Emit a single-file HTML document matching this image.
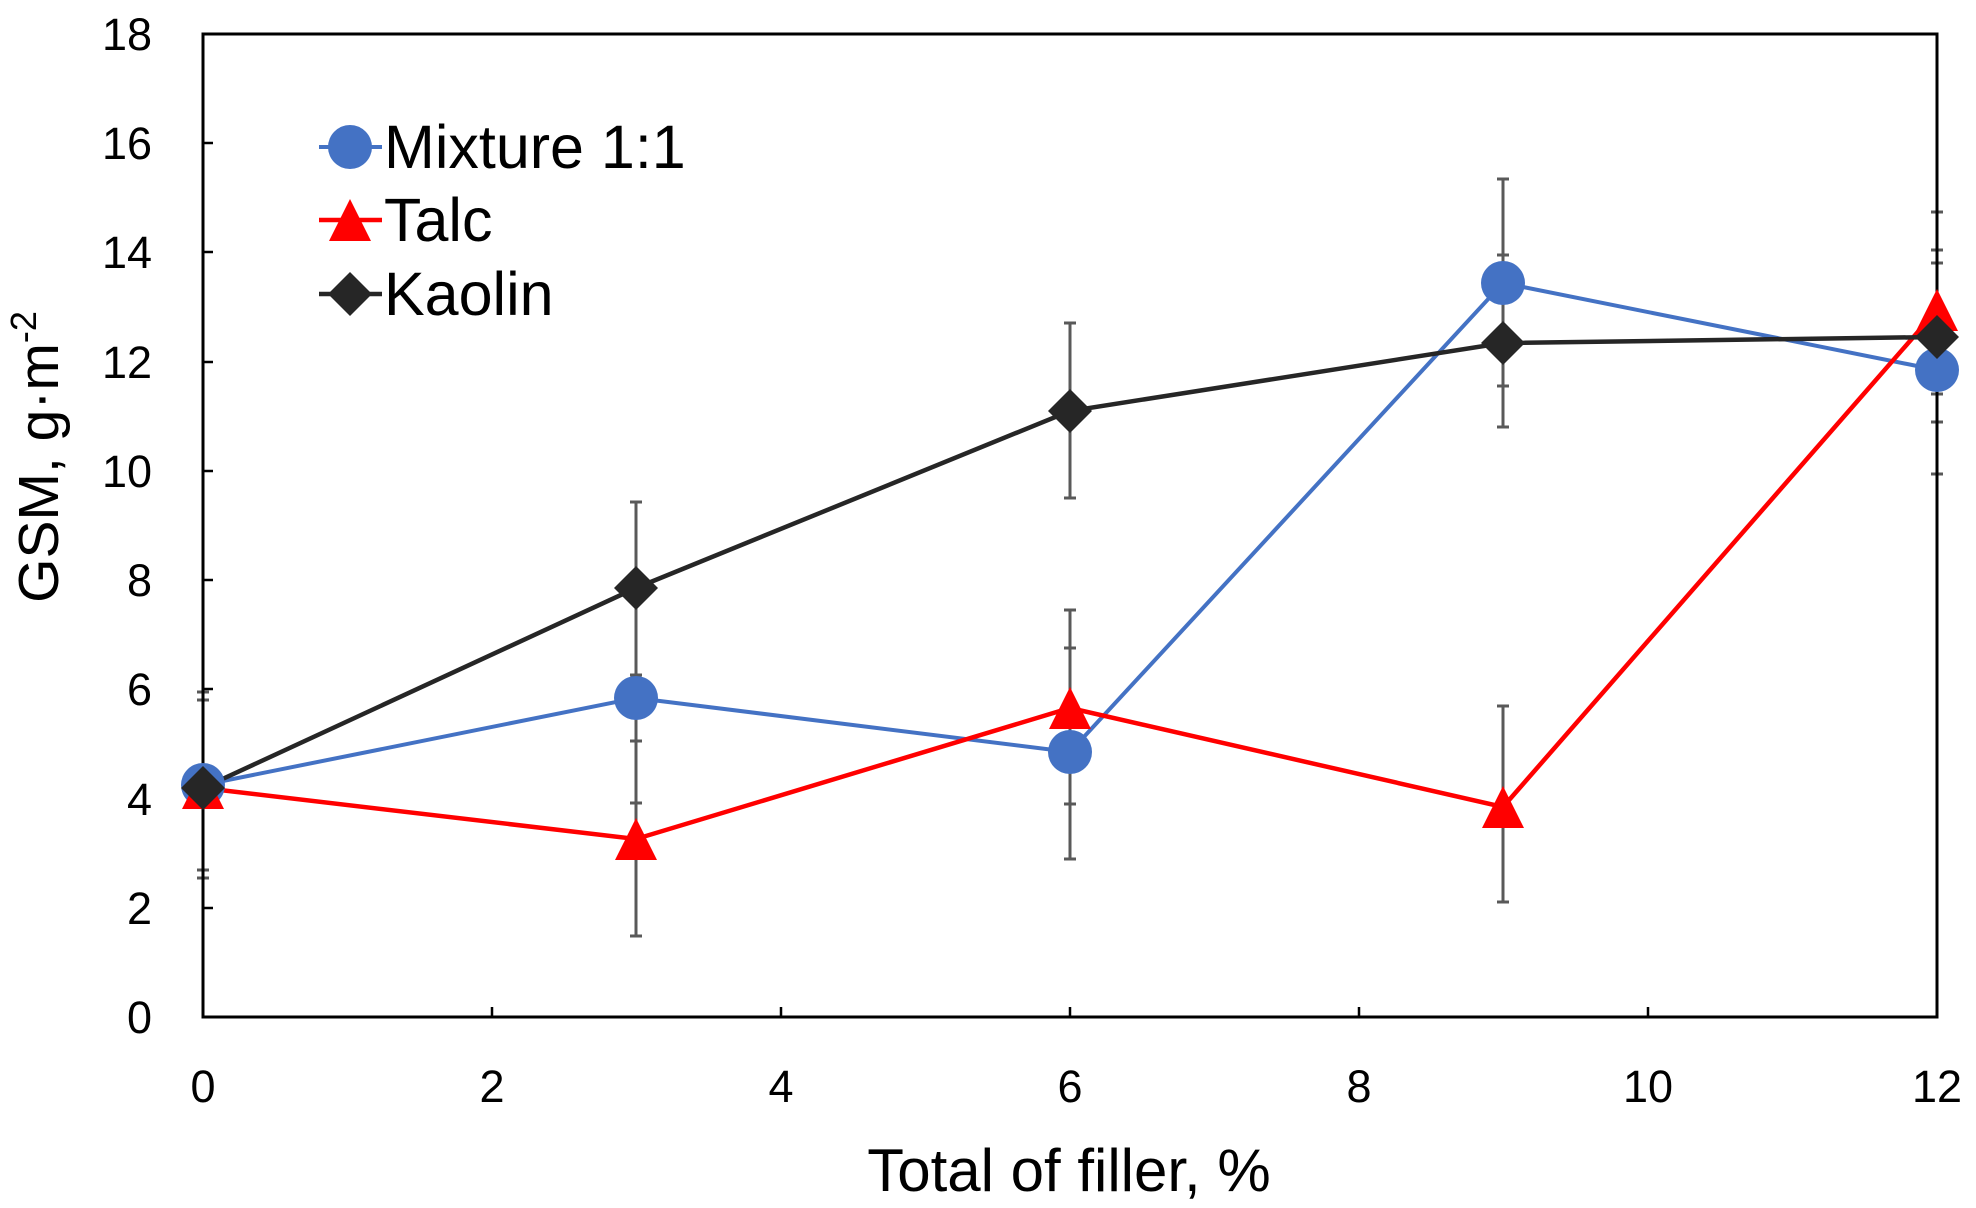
<!DOCTYPE html>
<html><head><meta charset="utf-8"><style>
html,body{margin:0;padding:0;background:#fff;}
svg{display:block;}
text{font-family:"Liberation Sans","DejaVu Sans",sans-serif;fill:#000;}
</style></head><body>
<svg width="1976" height="1208" viewBox="0 0 1976 1208" xmlns="http://www.w3.org/2000/svg">
<rect width="1976" height="1208" fill="#fff"/>
<g stroke="#595959" stroke-width="3" fill="none">
<path d="M203 692V878M197 692H209M197 878H209M203 700V870M197 700H209M197 870H209"/>
<path d="M636 502V675M630 502H642M630 675H642"/>
<path d="M636 741V936M630 741H642M630 936H642M636 803V675M630 803H642"/>
<path d="M1070 498V323M1064 498H1076M1064 323H1076"/>
<path d="M1070 859V648M1064 859H1076M1064 648H1076"/>
<path d="M1070 804V610M1064 804H1076M1064 610H1076"/>
<path d="M1503 427V255M1497 427H1509M1497 255H1509"/>
<path d="M1503 386V179M1497 386H1509M1497 179H1509"/>
<path d="M1503 902V706M1497 902H1509M1497 706H1509"/>
<path d="M1937 474V263M1931 474H1943M1931 263H1943"/>
<path d="M1937 422V250M1931 422H1943M1931 250H1943"/>
<path d="M1937 394V212M1931 394H1943M1931 212H1943"/>
</g>
<rect x="203" y="34" width="1734" height="983" fill="none" stroke="#000" stroke-width="3"/>
<g stroke="#000" stroke-width="2.5">
<path d="M203 1017V1007M492 1017V1007M781 1017V1007M1070 1017V1007M1359 1017V1007M1648 1017V1007"/>
<path d="M203 143H213M203 252H213M203 362H213M203 471H213M203 580H213M203 689H213M203 799H213M203 908H213"/>
</g>
<g font-size="45" text-anchor="end">
<text x="152" y="50">18</text><text x="152" y="159">16</text><text x="152" y="268">14</text>
<text x="152" y="378">12</text><text x="152" y="487">10</text><text x="152" y="596">8</text>
<text x="152" y="705">6</text><text x="152" y="815">4</text><text x="152" y="924">2</text><text x="152" y="1033">0</text>
</g>
<g font-size="45" text-anchor="middle">
<text x="203" y="1102">0</text><text x="492" y="1102">2</text><text x="781" y="1102">4</text>
<text x="1070" y="1102">6</text><text x="1359" y="1102">8</text><text x="1648" y="1102">10</text><text x="1937" y="1102">12</text>
</g>
<text x="1069" y="1191" font-size="60" text-anchor="middle">Total of filler, %</text>
<text transform="translate(58,457) rotate(-90)" font-size="57" text-anchor="middle">GSM, g·m<tspan font-size="36" dy="-22">-2</tspan></text>
<polyline points="203,785 636,698 1070,752 1503,283 1937,370" fill="none" stroke="#4472C4" stroke-width="4"/>
<polyline points="203,788 636,839 1070,708 1503,807 1937,310" fill="none" stroke="#FF0000" stroke-width="4.5"/>
<polyline points="203,788 636,588 1070,411 1503,343 1937,337" fill="none" stroke="#262626" stroke-width="4.5"/>
<g fill="#4472C4">
<circle cx="203" cy="785" r="22"/><circle cx="636" cy="698" r="22"/><circle cx="1070" cy="752" r="22"/><circle cx="1503" cy="283" r="22"/><circle cx="1937" cy="370" r="22"/>
</g>
<g fill="#FF0000">
<path d="M203 767l21 42h-42z"/><path d="M636 818l21 42h-42z"/><path d="M1070 687l21 42h-42z"/><path d="M1503 786l21 42h-42z"/><path d="M1937 289l21 42h-42z"/>
</g>
<g fill="#262626">
<path d="M203 766l22 22-22 22-22-22z"/><path d="M636 566l22 22-22 22-22-22z"/><path d="M1070 389l22 22-22 22-22-22z"/><path d="M1503 321l22 22-22 22-22-22z"/><path d="M1937 315l22 22-22 22-22-22z"/>
</g>
<line x1="319" y1="147" x2="382" y2="147" stroke="#4472C4" stroke-width="4"/>
<circle cx="350" cy="147" r="22" fill="#4472C4"/>
<text x="384" y="168" font-size="61">Mixture 1:1</text>
<line x1="319" y1="220" x2="382" y2="220" stroke="#FF0000" stroke-width="4.5"/>
<path d="M350 199l21 42h-42z" fill="#FF0000"/>
<text x="384" y="241" font-size="61">Talc</text>
<line x1="319" y1="294" x2="382" y2="294" stroke="#262626" stroke-width="4.5"/>
<path d="M350 272l22 22-22 22-22-22z" fill="#262626"/>
<text x="384" y="315" font-size="61">Kaolin</text>
</svg>
</body></html>
